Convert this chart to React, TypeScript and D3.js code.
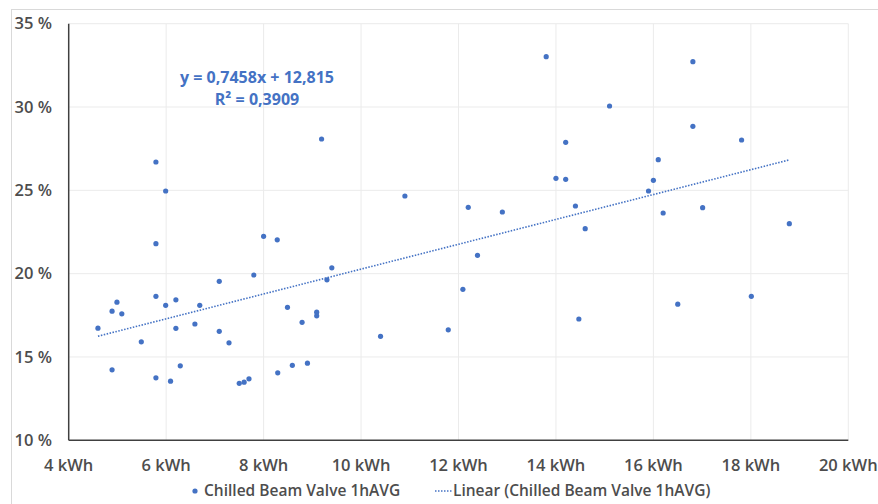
import React from "react";
import * as d3 from "d3";

const xValues = [
  4.6, 4.89, 4.99, 5.09, 4.89, 5.49, 5.79, 5.99, 5.79, 5.79, 5.79, 5.99, 6.09, 6.2, 6.2, 6.29,
  6.59, 6.69, 7.09, 7.09, 7.29, 7.5, 7.6, 7.7, 7.8, 8.0, 8.28, 8.29, 8.49, 8.59, 8.79, 8.9,
  9.09, 9.09, 9.19, 9.3, 9.4, 10.4, 10.9, 11.79, 12.09, 12.2, 12.39, 12.9, 13.8, 14.0, 14.2,
  14.2, 14.4, 14.47, 14.6, 15.1, 15.9, 16.0, 16.1, 16.2, 16.5, 16.81, 16.81, 17.01, 17.81,
  18.01, 18.79,
];
const yValues = [
  16.73, 17.75, 18.29, 17.59, 14.23, 15.91, 26.7, 24.96, 21.8, 18.64, 13.75, 18.1, 13.55,
  18.43, 16.72, 14.47, 16.98, 18.1, 19.54, 16.54, 15.85, 13.42, 13.49, 13.69, 19.92, 22.24,
  22.03, 14.05, 17.98, 14.5, 17.08, 14.63, 17.69, 17.47, 28.08, 19.63, 20.35, 16.24, 24.66,
  16.63, 19.06, 23.98, 21.1, 23.7, 33.02, 25.72, 27.88, 25.66, 24.06, 17.28, 22.7, 30.06,
  24.96, 25.6, 26.84, 23.64, 18.17, 32.72, 28.84, 23.96, 28.02, 18.64, 23.0,
];
const xTicks = [4, 6, 8, 10, 12, 14, 16, 18, 20];
const yTicks = [10, 15, 20, 25, 30, 35];
const trendSlope = 0.7458;
const trendIntercept = 12.815;
const equationLines = ["y = 0,7458x + 12,815", "R² = 0,3909"];
const seriesName = "Chilled Beam Valve 1hAVG";
const trendName = "Linear (Chilled Beam Valve 1hAVG)";

const BLUE = "#4472C4";
const TEXT = "#4d4d4d";
const FONT = "'Open Sans', 'Liberation Sans', sans-serif";

export default function App() {
  const x = d3.scaleLinear().domain([4, 20]).range([68.7, 848.3]);
  const y = d3.scaleLinear().domain([10, 35]).range([440.3, 23.7]);
  const [xmin, xmax] = d3.extent(xValues) as [number, number];
  const trend = d3
    .line<number>()
    .x((d) => x(d))
    .y((d) => y(trendSlope * d + trendIntercept));
  const pts = xValues.map((v, i) => ({ x: v, y: yValues[i] }));

  return (
    <svg
      width={878}
      height={504}
      style={{ position: "absolute", left: 0, top: 0, background: "#fff" }}
      fontFamily={FONT}
    >
      <rect x={11.5} y={9.5} width={880} height={510} fill="#fff" stroke="#D9D9D9" strokeWidth={1} />
      {xTicks.slice(1).map((t) => (
        <line key={"gx" + t} x1={x(t)} x2={x(t)} y1={y(35)} y2={y(10)} stroke="#EBEBEB" strokeWidth={1} />
      ))}
      {yTicks.slice(1).map((t) => (
        <line key={"gy" + t} x1={x(4)} x2={x(20)} y1={y(t)} y2={y(t)} stroke="#EBEBEB" strokeWidth={1} />
      ))}
      <line x1={x(4)} x2={x(4)} y1={y(35)} y2={y(10)} stroke="#404040" strokeWidth={1.5} />
      <line x1={x(4)} x2={x(20)} y1={y(10)} y2={y(10)} stroke="#404040" strokeWidth={1.5} />
      {yTicks.map((t) => (
        <text key={"ty" + t} x={52} y={y(t)} dy="0.35em" textAnchor="end" fontSize={16.5} fontWeight={600} fill={TEXT}>
          {t} %
        </text>
      ))}
      {xTicks.map((t) => (
        <text key={"tx" + t} x={x(t)} y={470.5} textAnchor="middle" fontSize={16.5} fontWeight={600} fill={TEXT}>
          {t} kWh
        </text>
      ))}
      {pts.map((p, i) => (
        <circle key={i} cx={x(p.x)} cy={y(p.y)} r={2.6} fill={BLUE} />
      ))}
      <path
        d={trend([xmin, xmax]) || ""}
        fill="none"
        stroke={BLUE}
        strokeWidth={1.6}
        strokeDasharray="1.5,1.5"
      />
      {equationLines.map((s, i) => (
        <text
          key={s}
          x={257}
          y={77 + i * 22}
          dy="0.35em"
          textAnchor="middle"
          fontSize={16}
          fontWeight="bold"
          fill={BLUE}
        >
          {s}
        </text>
      ))}
      <circle cx={195} cy={491} r={2.6} fill={BLUE} />
      <text x={204} y={491} dy="0.35em" fontSize={15.5} fontWeight={600} fill={TEXT}>
        {seriesName}
      </text>
      <line x1={435} x2={452} y1={491} y2={491} stroke={BLUE} strokeWidth={1.6} strokeDasharray="1.5,1.5" />
      <text x={453} y={491} dy="0.35em" fontSize={15.5} fontWeight={600} fill={TEXT}>
        {trendName}
      </text>
    </svg>
  );
}
